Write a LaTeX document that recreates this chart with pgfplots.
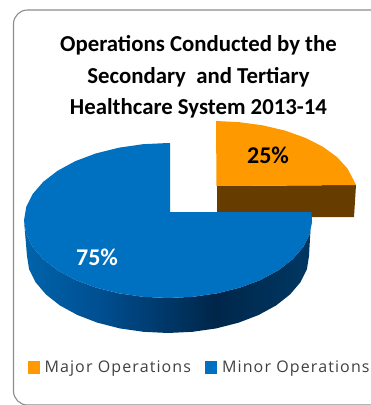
\documentclass[border=0pt]{standalone}
\usepackage{pgfplots}
\pgfplotsset{compat=1.18}
\usepackage{fontspec}
\setmainfont{Carlito}
\newfontfamily\legendfont[LetterSpace=7]{Open Sans}
\definecolor{majortop}{HTML}{FF9900}
\definecolor{majorside}{HTML}{663C00}
\definecolor{minortop}{HTML}{0070C0}
\definecolor{framegray}{HTML}{8C8C8C}
\definecolor{legendtext}{HTML}{404040}
% Rim of the blue slice: lighter at the left, darkest just right of the middle
\pgfdeclarehorizontalshading{minorrim}{100bp}{
  rgb(0bp)=(0,0.39,0.67);
  rgb(25bp)=(0,0.39,0.67);
  rgb(38bp)=(0,0.31,0.57);
  rgb(58bp)=(0,0.15,0.29);
  rgb(75bp)=(0,0.22,0.39);
  rgb(100bp)=(0,0.22,0.39)}
\pgfplotsset{swatch/.style={legend image code/.code={\fill[##1] (0pt,-6.5pt) rectangle (12pt,6.5pt);}}}
\begin{document}
\begin{tikzpicture}[x=1pt,y=1pt]
\useasboundingbox (0,0) rectangle (371,405);
\begin{axis}[
  at={(0,0)},anchor=south west,
  scale only axis,width=371pt,height=405pt,
  xmin=0,xmax=371,ymin=0,ymax=405,y dir=reverse,
  hide axis,clip=false,
  title={Operations Conducted by the\\Secondary\ \ and Tertiary\\Healthcare System 2013-14},
  title style={at={(axis cs:198.5,83)},anchor=center,align=center,yshift=0pt,
    font=\bfseries\fontsize{22.8}{31.5}\selectfont},
  legend columns=2,
  legend style={at={(axis cs:27.5,367.5)},anchor=west,draw=none,fill=none,
    inner sep=0pt,outer sep=0pt,
    font=\legendfont\fontsize{16}{18}\selectfont\color{legendtext},
    /tikz/column 1/.style={column sep=5pt},
    /tikz/column 2/.style={column sep=14pt},
    /tikz/column 3/.style={column sep=5pt},
    nodes={inner sep=0pt,anchor=west}},
]
% Panel outline
\draw[framegray,line width=1.1pt,rounded corners=14pt]
  (axis cs:376,10) -- (axis cs:13.5,10) -- (axis cs:13.5,405) -- (axis cs:376,405);

% Major slice: rim, then face
\addplot[fill=majorside,draw=none,forget plot] coordinates {
  (217,186) (356,185) (354,217) (217,217)} --cycle;
\addplot[fill=majortop,draw=none,swatch] coordinates {
  (216.5,186) (216,121) (238.7,122.1) (262.6,125.3) (285,130.6) (305.3,137.8)
  (322.8,146.7) (337,157) (347.4,168.4) (353.8,180.5) (356,185)} --cycle;
\addlegendentry{Major Operations}

% Minor slice: rim, then face
\addplot[shading=minorrim,draw=none,forget plot] coordinates {
  (311.5,212) (312,220.5) (309.8,234) (303.3,247) (292.7,259.25) (278.3,270.3)
  (260.6,279.9) (240,287.6) (217.2,293.3) (193,296.8) (168,298) (143,296.8)
  (118.8,293.3) (96,287.6) (75.4,279.9) (57.7,270.3) (43.3,259.25) (32.7,247)
  (26.2,234) (24,220.5)
  (27,256) (29.1,269.4) (35.6,282.3) (46,294.5) (60,305.5) (77.4,315) (97.5,322.7)
  (119.8,328.4) (143.5,331.8) (168,333) (192.5,331.8) (216.2,328.4) (238.5,322.7)
  (258.6,315) (276,305.5) (290,294.5) (300.4,282.3) (306.9,269.4) (309,256)} --cycle;
\addplot[fill=minortop,draw=none,swatch] coordinates {
  (170,212) (311.5,212) (312,220.5) (309.8,234) (303.3,247) (292.7,259.25)
  (278.3,270.3) (260.6,279.9) (240,287.6) (217.2,293.3) (193,296.8) (168,298)
  (143,296.8) (118.8,293.3) (96,287.6) (75.4,279.9) (57.7,270.3) (43.3,259.25)
  (32.7,247) (26.2,234) (24,220.5) (26.2,207) (32.7,194) (43.3,181.75) (57.7,170.7)
  (75.4,161.1) (96,153.4) (118.8,147.7) (143,144.2) (168,143) (170,143)} --cycle;
\addlegendentry{Minor Operations}

% Share labels
\node[font=\bfseries\fontsize{24}{24}\selectfont,text=black] at (axis cs:268,155) {25\%};
\node[font=\bfseries\fontsize{24}{24}\selectfont,text=white] at (axis cs:97,257) {75\%};
\end{axis}
\end{tikzpicture}
\end{document}
